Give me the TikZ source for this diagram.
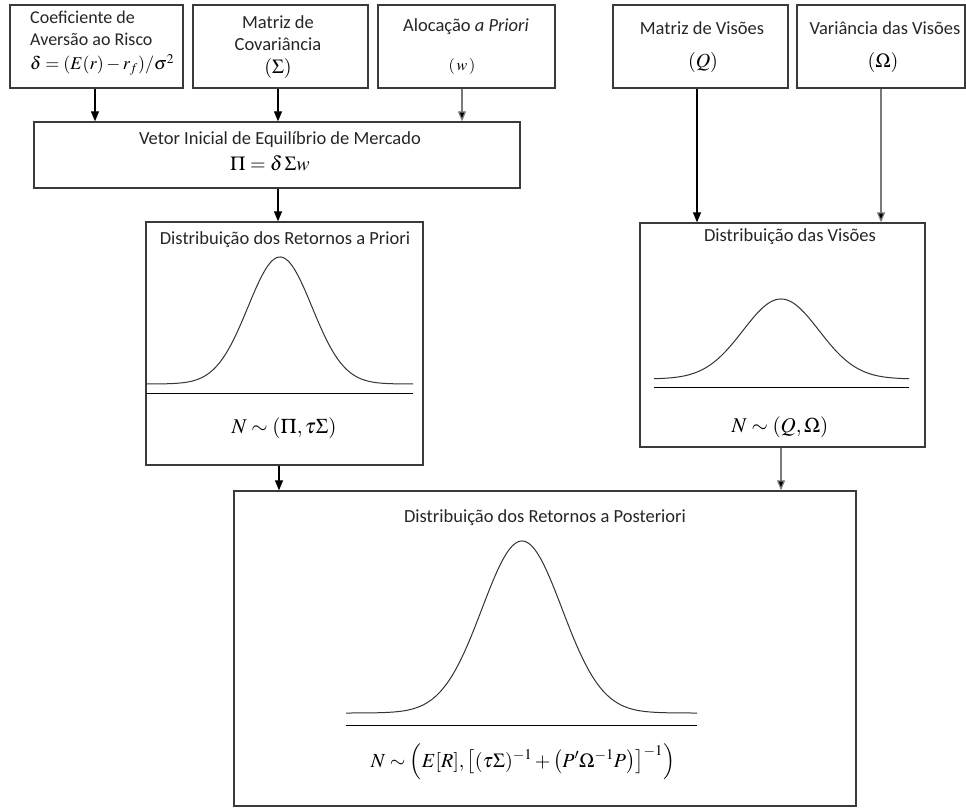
\documentclass[tikz,border=0pt]{standalone}
\usepackage{amsmath}
\usepackage{mathptmx}
\usepackage[no-math]{fontspec}
\setmainfont{Carlito}
\usetikzlibrary{arrows.meta}
\definecolor{boxline}{HTML}{3A3A3A}
\definecolor{lightarr}{HTML}{7A7A7A}
\begin{document}
\begin{tikzpicture}[x=1pt,y=-1pt,
  box/.style={draw=boxline, line width=1.3pt, inner sep=0pt, fill=white},
  lbl/.style={font=\fontsize{18.5}{22}\selectfont, inner sep=0pt, text=black!85},
  mth/.style={font=\fontsize{20}{24}\selectfont, inner sep=0pt},
  arr/.style={draw=black, line width=1.2pt, -{Triangle[length=10pt,width=8pt]}},
  garr/.style={arr, draw=lightarr, -{Triangle[length=10pt,width=8pt,fill=black]}},
  curve/.style={draw=black!80, line width=1pt},
  base/.style={draw=black, line width=1pt}]
\useasboundingbox (0,0) rectangle (966,810);
\fill[white] (0,0) rectangle (966,810);

% top boxes
\node[box, minimum width=173pt, minimum height=83pt] (b1) at (96.5,46.5) {};
\node[box, minimum width=175pt, minimum height=83pt] (b2) at (280.5,46.5) {};
\node[box, minimum width=177pt, minimum height=83pt] (b3) at (466.5,46.5) {};
\node[box, minimum width=175pt, minimum height=83pt] (b4) at (700.5,46.5) {};
\node[box, minimum width=168pt, minimum height=83pt] (b5) at (881,46.5) {};

% middle / lower boxes
\node[box, minimum width=486pt, minimum height=66pt] (vetor) at (277,155) {};
\node[box, minimum width=277pt, minimum height=243pt] (priori) at (284.5,343.5) {};
\node[box, minimum width=285pt, minimum height=224pt] (visoes) at (782.5,335) {};
\node[box, minimum width=622pt, minimum height=315pt] (post) at (545,648.5) {};

% texts of top boxes
\node[lbl, anchor=west, font=\fontsize{18}{22}\selectfont] (t1a) at (30,17) {Coeficiente de};
\node[lbl, anchor=west, font=\fontsize{18}{22}\selectfont] (t1b) at (30,39) {Aversão ao Risco};
\node[mth, anchor=west, font=\fontsize{18}{21}\selectfont] (t1c) at (30,65)
  {$\boldsymbol{\delta}=(E(r)-r_f)/\sigma^2$};
\node[lbl] (t2a) at (278,22) {Matriz de};
\node[lbl] (t2b) at (278,44) {Covariância};
\node[mth] (t2c) at (278,69) {$(\Sigma)$};
\node[lbl] (t3a) at (466,27) {Alocação \textit{a Priori}};
\node[mth, font=\fontsize{16}{18}\selectfont] (t3b) at (462,67) {$(\,\boldsymbol{w}\,)$};
\node[lbl] (t4a) at (702,28) {Matriz de Visões};
\node[mth] (t4b) at (703,63) {$(Q)$};
\node[lbl] (t5a) at (885,28) {Variância das Visões};
\node[mth] (t5b) at (883,63) {$(\Omega)$};

% vetor
\node[lbl] (tva) at (280,140) {Vetor Inicial de Equilíbrio de Mercado};
\node[mth, font=\fontsize{20}{22}\selectfont] (tvb) at (270,163) {$\Pi=\boldsymbol{\delta}\,\Sigma w$};

% priori
\node[lbl] (tpa) at (285,240) {Distribuição dos Retornos a Priori};
\draw[curve] plot[domain=146:413, samples=150, smooth] (\x, {384-127*exp(-0.5*pow((\x-280)/32,2))});
\draw[base] (146,393) -- (413,393);
\node[mth, font=\fontsize{21}{24}\selectfont] (tpb) at (284,428) {$N\sim(\Pi,\tau\Sigma)$};

% visoes
\node[lbl] (tqa) at (790,237) {Distribuição das Visões};
\draw[curve] plot[domain=654:909, samples=150, smooth] (\x, {379-80*exp(-0.5*pow((\x-781)/38,2))});
\draw[base] (654,387) -- (909,387);
\node[mth, font=\fontsize{21}{24}\selectfont] (tqb) at (780,427) {$N\sim(Q,\Omega)$};

% posterior
\node[lbl] (tra) at (545,518) {Distribuição dos Retornos a Posteriori};
\draw[curve] plot[domain=346:697, samples=200, smooth] (\x, {713-172*exp(-0.5*pow((\x-522)/40,2))});
\draw[base] (346,725) -- (697,725);
\node[mth, font=\fontsize{20}{24}\selectfont] (trb) at (523,762)
  {$N\sim\Bigl(E[R],\bigl[(\tau\Sigma)^{-1}+\bigl(P'\Omega^{-1}P\bigr)\bigr]^{-1}\Bigr)$};

% connectors
\draw[arr]  ([xshift=-1.5pt]b1.south) -- ([xshift=-1.5pt]b1.south |- vetor.north);
\draw[arr]  ([xshift=-2.5pt]b2.south) -- ([xshift=-2.5pt]b2.south |- vetor.north);
\draw[garr] ([xshift=-4.5pt]b3.south) -- ([xshift=-4.5pt]b3.south |- vetor.north);
\draw[arr]  ([xshift=1pt]vetor.south) -- ([xshift=1pt]vetor.south |- priori.north);
\draw[arr]  ([xshift=-3.5pt]b4.south) -- ([xshift=-3.5pt]b4.south |- visoes.north);
\draw[garr] (b5.south) -- (b5.south |- visoes.north);
\draw[arr]  ([xshift=-5.5pt]priori.south) -- ([xshift=-5.5pt]priori.south |- post.north);
\draw[garr] ([xshift=-1.5pt]visoes.south) -- ([xshift=-1.5pt]visoes.south |- post.north);
\end{tikzpicture}
\end{document}
